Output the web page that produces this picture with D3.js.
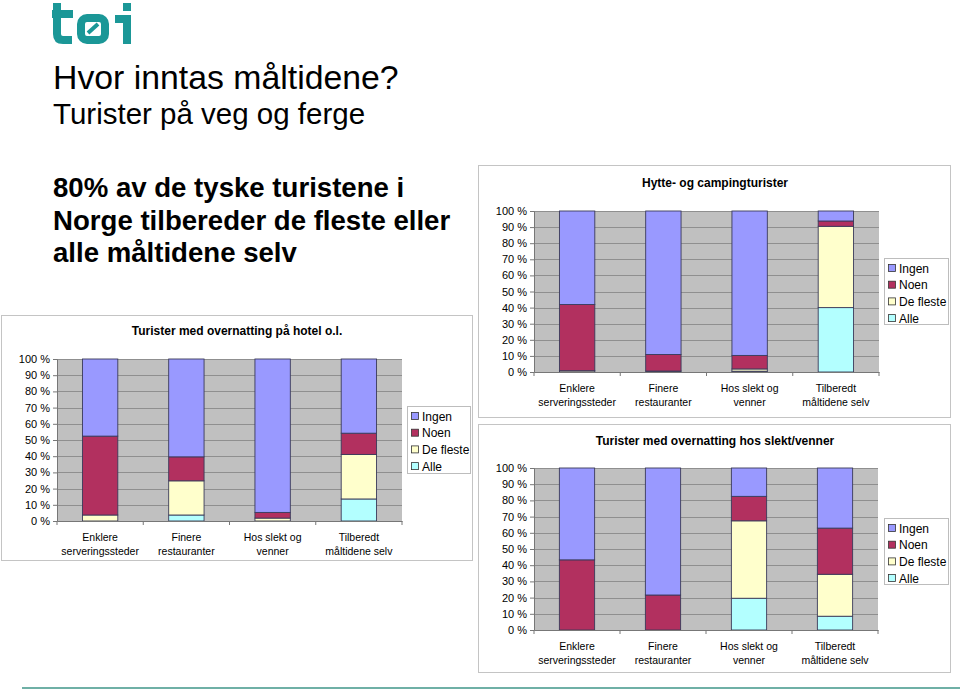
<!DOCTYPE html>
<html>
<head>
<meta charset="utf-8">
<script src="https://cdn.jsdelivr.net/npm/d3@7/dist/d3.min.js"></script>
<style>
  html, body { margin: 0; padding: 0; background: #fff; }
  svg { display: block; font-family: "Liberation Sans", Arial, sans-serif; }
</style>
</head>
<body>
<svg id="c" width="960" height="690"></svg>
<script>
// ---------- DATA ----------
const categories = ["Enklere serveringssteder", "Finere restauranter", "Hos slekt og venner", "Tilberedt måltidene selv"];
const categoryLines = [["Enklere", "serveringssteder"], ["Finere", "restauranter"], ["Hos slekt og", "venner"], ["Tilberedt", "måltidene selv"]];
const seriesNames = ["Alle", "De fleste", "Noen", "Ingen"];      // stacking order, bottom to top
const legendOrder = ["Ingen", "Noen", "De fleste", "Alle"];
const yTicks = [0, 10, 20, 30, 40, 50, 60, 70, 80, 90, 100];

// Turister med overnatting på hotel o.l.
const hotelAlle     = [0, 3.7, 0, 13.6];
const hotelDeFleste = [3.7, 21.1, 1.8, 27.5];
const hotelNoen     = [48.7, 14.8, 3.5, 13.1];
const hotelIngen    = [47.6, 60.4, 94.7, 45.8];

// Hytte- og campingturister
const hytteAlle     = [0, 0, 0.5, 40.0];
const hytteDeFleste = [0.8, 0.6, 1.4, 50.5];
const hytteNoen     = [41.1, 10.3, 8.4, 3.3];
const hytteIngen    = [58.1, 89.1, 89.7, 6.2];

// Turister med overnatting hos slekt/venner
const slektAlle     = [0, 0, 19.6, 8.5];
const slektDeFleste = [0, 0, 47.8, 25.9];
const slektNoen     = [43.3, 21.6, 15.1, 28.5];
const slektIngen    = [56.7, 78.4, 17.5, 37.1];

// ---------- STYLE ----------
const colors = { "Ingen": "#9999ff", "Noen": "#b2305f", "De fleste": "#ffffcc", "Alle": "#b3ffff" };

const svg = d3.select("#c");

// logo "tøi"
const logo = svg.append("g").attr("fill", "none").attr("stroke", "#1b9797").attr("stroke-width", 8).attr("stroke-linecap", "butt");
logo.append("path").attr("d", "M57,3 L57,34 Q57,40 63,40 L72,40");
logo.append("path").attr("d", "M52,14 L73,14");
logo.append("rect").attr("x", 81).attr("y", 18).attr("width", 24).attr("height", 22).attr("rx", 6);
logo.append("path").attr("d", "M88,33 L98,24").attr("stroke-width", 4);
logo.append("path").attr("d", "M115,19 L127,19 L127,44");
logo.append("rect").attr("x", 123).attr("y", 3).attr("width", 8).attr("height", 8).attr("fill", "#1b9797").attr("stroke", "none");

// headings
svg.append("text").attr("x", 53).attr("y", 89).attr("font-size", 33.8).attr("fill", "#000").text("Hvor inntas måltidene?");
svg.append("text").attr("x", 53).attr("y", 124).attr("font-size", 29.5).attr("fill", "#000").text("Turister på veg og ferge");
const sub = ["80% av de tyske turistene i", "Norge tilbereder de fleste eller", "alle måltidene selv"];
svg.append("g").selectAll("text").data(sub).join("text")
  .attr("x", 53).attr("y", (d, i) => 197 + i * 32.5)
  .attr("font-size", 27.6).attr("font-weight", "bold").attr("fill", "#000").text(d => d);

// bottom rule
svg.append("line").attr("x1", 22).attr("x2", 960).attr("y1", 688).attr("y2", 688)
  .attr("stroke", "#6fb0a6").attr("stroke-width", 2);

function drawChart(cfg) {
  const g = svg.append("g");
  const f = cfg.frame, p = cfg.plot;
  g.append("rect").attr("x", f.x + 0.5).attr("y", f.y + 0.5).attr("width", f.w).attr("height", f.h)
    .attr("fill", "#fff").attr("stroke", "#c4c4c4");
  g.append("text").attr("x", cfg.titleX).attr("y", cfg.titleY).attr("text-anchor", "middle")
    .attr("font-size", 12).attr("font-weight", "bold").text(cfg.title);

  const x = d3.scaleBand().domain(categories).range([p.x, p.x + p.w]).paddingInner(0).paddingOuter(0);
  const y = d3.scaleLinear().domain([0, 100]).range([p.y + p.h, p.y]);

  g.append("rect").attr("x", p.x).attr("y", p.y).attr("width", p.w).attr("height", p.h).attr("fill", "#c0c0c0");
  g.append("g").selectAll("line").data(yTicks.slice(1)).join("line")
    .attr("x1", p.x).attr("x2", p.x + p.w).attr("y1", d => Math.round(y(d)) + 0.5).attr("y2", d => Math.round(y(d)) + 0.5)
    .attr("stroke", "#8f8f8f").attr("stroke-width", 1);

  const table = categories.map((c, i) => {
    const o = { cat: c };
    seriesNames.forEach(s => o[s] = cfg.values[s][i]);
    return o;
  });
  const stack = d3.stack().keys(seriesNames)(table);
  const bw = x.bandwidth() * 0.41;
  g.append("g").selectAll("g").data(stack).join("g")
    .attr("fill", d => colors[d.key])
    .selectAll("rect").data(d => d.filter(v => v[1] - v[0] > 0)).join("rect")
    .attr("x", d => x(d.data.cat) + (x.bandwidth() - bw) / 2)
    .attr("width", bw)
    .attr("y", d => y(d[1]))
    .attr("height", d => y(d[0]) - y(d[1]))
    .attr("stroke", "#3a3a5a").attr("stroke-width", 0.9);

  // y axis
  const ya = d3.axisLeft(y).tickValues(yTicks).tickFormat(d => d + " %").tickSize(4).tickPadding(3);
  const yg = g.append("g").attr("transform", `translate(${p.x},0)`).call(ya);
  yg.select(".domain").attr("stroke", "#777");
  yg.selectAll(".tick line").attr("stroke", "#777");
  yg.selectAll("text").attr("font-size", 11).attr("font-family", "Liberation Sans, Arial, sans-serif").attr("fill", "#000");

  // x axis
  const xa = d3.axisBottom(x).tickSize(0).tickFormat("");
  const xg = g.append("g").attr("transform", `translate(0,${p.y + p.h})`).call(xa);
  xg.select(".domain").attr("stroke", "#777");
  const bounds = categories.map(c => x(c)).concat([p.x + p.w]);
  xg.selectAll(".sep").data(bounds).join("line").attr("class", "sep")
    .attr("x1", d => d).attr("x2", d => d).attr("y1", 0).attr("y2", 4).attr("stroke", "#777");
  categories.forEach((c, i) => {
    const t = g.append("text").attr("text-anchor", "middle").attr("font-size", 10.5).attr("fill", "#000");
    categoryLines[i].forEach((ln, j) => {
      t.append("tspan").attr("x", x(c) + x.bandwidth() / 2).attr("y", p.y + p.h + 20 + j * 14).text(ln);
    });
  });

  // legend
  const L = cfg.legend;
  g.append("rect").attr("x", L.x + 0.5).attr("y", L.y + 0.5).attr("width", L.w).attr("height", L.h)
    .attr("fill", "#fff").attr("stroke", "#bdbdbd");
  const li = g.append("g").selectAll("g").data(legendOrder).join("g")
    .attr("transform", (d, i) => `translate(${L.x + 4},${L.y + 10 + i * 16.7})`);
  li.append("rect").attr("x", 0.5).attr("y", -3.5).attr("width", 7).attr("height", 7)
    .attr("fill", d => colors[d]).attr("stroke", "#333").attr("stroke-width", 0.8);
  li.append("text").attr("x", 11).attr("y", 4.5).attr("font-size", 12).text(d => d);
}

drawChart({
  title: "Turister med overnatting på hotel o.l.", titleX: 237, titleY: 335,
  frame: { x: 1, y: 315, w: 471, h: 245 },
  plot: { x: 57, y: 359, w: 345, h: 162 },
  legend: { x: 407, y: 406, w: 63, h: 67 },
  values: { "Alle": hotelAlle, "De fleste": hotelDeFleste, "Noen": hotelNoen, "Ingen": hotelIngen }
});
drawChart({
  title: "Hytte- og campingturister", titleX: 715, titleY: 187,
  frame: { x: 478, y: 165, w: 472, h: 252 },
  plot: { x: 534, y: 211, w: 345, h: 161 },
  legend: { x: 884, y: 258, w: 64, h: 66 },
  values: { "Alle": hytteAlle, "De fleste": hytteDeFleste, "Noen": hytteNoen, "Ingen": hytteIngen }
});
drawChart({
  title: "Turister med overnatting hos slekt/venner", titleX: 715, titleY: 445,
  frame: { x: 478, y: 424, w: 472, h: 248 },
  plot: { x: 534, y: 468, w: 344, h: 162 },
  legend: { x: 884, y: 518, w: 64, h: 66 },
  values: { "Alle": slektAlle, "De fleste": slektDeFleste, "Noen": slektNoen, "Ingen": slektIngen }
});
</script>
</body>
</html>
